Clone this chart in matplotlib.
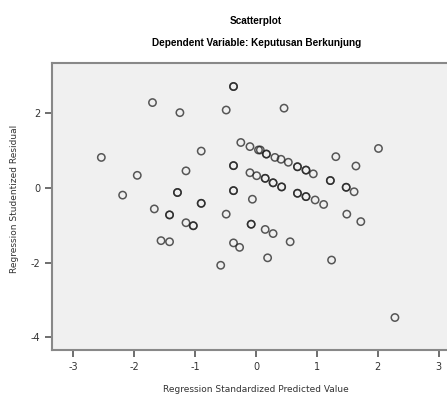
import matplotlib.pyplot as plt

# Predicted (x) and studentized residual (y).
# Points drawn darker in the picture are listed twice (overlapping cases).
pred = [-0.37, -0.37, -1.70, -1.25, -0.49, 0.46, -2.54, -0.90, -0.25, -0.10,
        0.04, 0.07, 0.17, 0.17, 0.31, 0.41, 0.53, 0.68, 0.68, 0.82, 0.82, 0.94,
        1.31, 2.01, 1.64, -1.15, -1.95, -0.37, -0.37, -0.10, 0.01, 0.15, 0.15,
        0.28, 0.28, 0.42, 0.42, 0.68, 0.68, 0.82, 0.82, 0.97, 1.11, 1.22, 1.22,
        1.48, 1.48, 1.61, -2.19, -1.29, -1.29, -0.37, -0.37, -0.06, -0.90,
        -0.90, -1.67, -1.42, -1.42, -0.49, -1.15, -1.03, -1.03, -0.08, -0.08,
        1.49, 1.72, 0.15, 0.28, -1.56, -1.42, -0.37, -0.27, 0.56, 0.19, 1.24,
        -0.58, 2.28]
resid = [2.72, 2.72, 2.29, 2.02, 2.09, 2.14, 0.82, 0.99, 1.22, 1.11,
         1.02, 1.02, 0.91, 0.91, 0.82, 0.77, 0.69, 0.57, 0.57, 0.48, 0.48, 0.38,
         0.84, 1.06, 0.59, 0.46, 0.34, 0.60, 0.60, 0.41, 0.33, 0.26, 0.26,
         0.14, 0.14, 0.03, 0.03, -0.14, -0.14, -0.23, -0.23, -0.32, -0.44, 0.20,
         0.20, 0.02, 0.02, -0.10, -0.19, -0.12, -0.12, -0.07, -0.07, -0.30,
         -0.41, -0.41, -0.56, -0.72, -0.72, -0.70, -0.93, -1.01, -1.01, -0.97,
         -0.97, -0.70, -0.90, -1.11, -1.22, -1.41, -1.44, -1.47, -1.59, -1.44,
         -1.87, -1.93, -2.07, -3.47]

x_ticks = [-3, -2, -1, 0, 1, 2, 3]
y_ticks = [2, 0, -2, -4]

plt.rcParams['axes.unicode_minus'] = False

fig = plt.figure(figsize=(4.47, 3.97), dpi=100)
ax = fig.add_axes([0.1163, 0.1184, 0.913, 0.7229])
ax.set_facecolor('#f0f0f0')

ax.scatter(pred, resid, s=28, facecolors='none', edgecolors='#222222',
           linewidths=1.1, alpha=0.75)

ax.set_xlim(-3.35, 3.35)
ax.set_ylim(-4.34, 3.35)
ax.set_xticks(x_ticks)
ax.set_yticks(y_ticks)
ax.tick_params(direction='out', length=5, width=1.2, color='#555555',
               labelsize=7, labelcolor='#333333')
ax.tick_params(axis='x', pad=4)
for s in ax.spines.values():
    s.set_color('#888888')
    s.set_linewidth(1.5)

fig.text(0.573, 0.948, 'Scatterplot', ha='center', va='center',
         fontsize=7.2, fontweight='bold', family='Liberation Sans')
fig.text(0.573, 0.892, 'Dependent Variable: Keputusan Berkunjung',
         ha='center', va='center', fontsize=7.2, fontweight='bold',
         family='Liberation Sans')
fig.text(0.573, 0.018, 'Regression Standardized Predicted Value',
         ha='center', va='center', fontsize=6.5, color='#333333')
fig.text(0.032, 0.5, 'Regression Studentized Residual', rotation=90,
         ha='center', va='center', fontsize=6.5, color='#333333')

fig.savefig('out.png', dpi=100)
